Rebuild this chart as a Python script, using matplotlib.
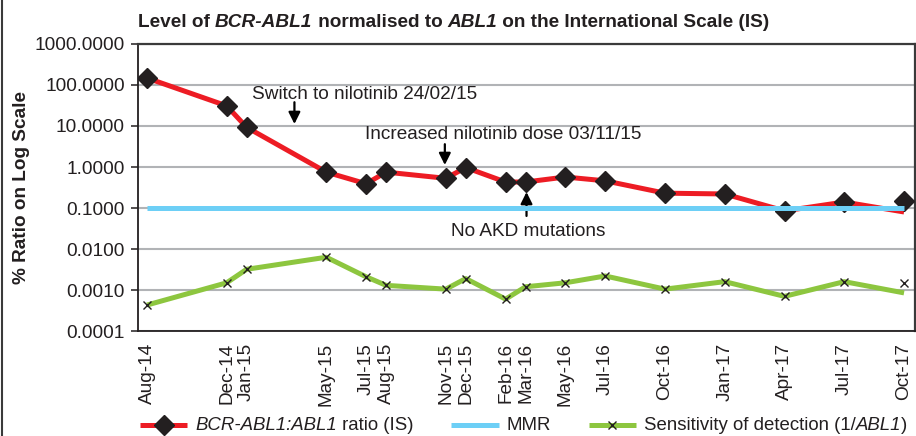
import datetime as dt
import matplotlib
matplotlib.use('Agg')
import matplotlib.pyplot as plt
from matplotlib.lines import Line2D
from matplotlib.ticker import FixedLocator, NullLocator
from matplotlib.offsetbox import AnchoredOffsetbox, DrawingArea, HPacker, TextArea

plt.rcParams['font.family'] = ['Liberation Sans', 'DejaVu Sans']

# sample dates (tick labels) and values
months = ['Aug-14', 'Dec-14', 'Jan-15', 'May-15', 'Jul-15', 'Aug-15', 'Nov-15', 'Dec-15',
          'Feb-16', 'Mar-16', 'May-16', 'Jul-16', 'Oct-16', 'Jan-17', 'Apr-17', 'Jul-17', 'Oct-17']
ratio_is = [148, 31, 9.3, 0.75, 0.39, 0.75, 0.53, 0.97, 0.43, 0.43, 0.57, 0.46,
            0.23, 0.22, 0.085, 0.14, 0.15]
ratio_line_end = 0.08        # red line ends lower than the last marker
sensitivity = [0.00043, 0.0015, 0.0032, 0.0063, 0.0021, 0.0013, 0.00105, 0.0019, 0.0006,
               0.0012, 0.0015, 0.0022, 0.00105, 0.0016, 0.0007, 0.0016, 0.0015]
sens_line_end = 0.00085
mmr = 0.1
y_ticks = [0.0001, 0.001, 0.01, 0.1, 1, 10, 100, 1000]

def month_index(label):
    d = dt.datetime.strptime(label, '%b-%y')
    return (d.year - 2014) * 12 + d.month - 8

x = [month_index(m) for m in months]

RED = '#ed1c24'
BLUE = '#6dcff6'
GREEN = '#8dc63f'
DARK = '#231f20'
GRID = '#b1b3b6'
FS = 13.7
LEG_FS = 13.4

fig = plt.figure(figsize=(9.16, 4.36), dpi=100)
ax = fig.add_axes([0.1507, 0.2408, 0.8482, 0.6583])

# BCR-ABL1 ratio
ax.plot(x, ratio_is[:-1] + [ratio_line_end], color=RED, lw=3.6, zorder=3, solid_capstyle='butt')
ax.plot(x, ratio_is, ls='none', marker='D', ms=10, color=DARK, zorder=4)
# MMR
ax.plot([x[0], x[-1]], [mmr, mmr], color=BLUE, lw=3.6, zorder=5, solid_capstyle='butt')
# sensitivity
ax.plot(x, sensitivity[:-1] + [sens_line_end], color=GREEN, lw=3.6, zorder=6, solid_capstyle='butt')
ax.plot(x, sensitivity, ls='none', marker='x', ms=6, mew=1.0, color=DARK, zorder=7)

ax.set_yscale('log')
ax.set_ylim(0.0001, 1000)
ax.set_xlim(-0.45, 38.55)
ax.yaxis.set_major_locator(FixedLocator(y_ticks))
ax.yaxis.set_minor_locator(NullLocator())
ax.set_yticklabels(['%.4f' % v for v in y_ticks])
ax.set_xticks(x)
ax.set_xticklabels(months, rotation=90)
ax.tick_params(axis='x', length=0, pad=8.5, labelsize=FS, labelcolor=DARK)
ax.tick_params(axis='y', length=5, width=1.1, pad=4.5, labelsize=FS, labelcolor=DARK, color=DARK)
ax.grid(axis='y', color=GRID, lw=1.5, zorder=0)
ax.set_axisbelow(True)
for side in ['left', 'bottom']:
    ax.spines[side].set_color(DARK)
    ax.spines[side].set_linewidth(1.3)
for side in ['top', 'right']:
    ax.spines[side].set_color('#3a3a3a')
    ax.spines[side].set_linewidth(1.6)

ax.set_ylabel('% Ratio on Log Scale', fontsize=FS, fontweight='bold', color=DARK)
ax.yaxis.set_label_coords(-0.139, 0.5)

# title with italic gene names
pieces = [('Level of ', 'normal'), ('BCR-ABL1', 'italic'), (' normalised to ', 'normal'),
          ('ABL1', 'italic'), (' on the International Scale (IS)', 'normal')]
prev = ax.annotate(pieces[0][0], xy=(0, 1), xycoords='axes fraction', xytext=(0, 9),
                   textcoords='offset points', va='bottom', ha='left', fontsize=FS,
                   fontweight='bold', fontstyle=pieces[0][1], color=DARK)
for txt, style in pieces[1:]:
    prev = ax.annotate(txt, xy=(1, 0), xycoords=prev, va='bottom', ha='left', fontsize=FS,
                       fontweight='bold', fontstyle=style, color=DARK)

# annotations
arrow = dict(arrowstyle='-|>,head_length=0.7,head_width=0.35', color='black', lw=1.6,
             shrinkA=0, shrinkB=0)
ax.annotate('', xy=(7.4, 11.2), xytext=(7.4, 38), arrowprops=arrow)
ax.text(5.27, 60, 'Switch to nilotinib 24/02/15', fontsize=FS, color=DARK, va='center', ha='left')
ax.annotate('', xy=(14.95, 1.12), xytext=(14.95, 3.6), arrowprops=arrow)
ax.text(10.95, 6.3, 'Increased nilotinib dose 03/11/15', fontsize=FS, color=DARK, va='center', ha='left')
ax.annotate('', xy=(19.05, 0.245), xytext=(19.05, 0.064), arrowprops=arrow)
ax.text(15.26, 0.026, 'No AKD mutations', fontsize=FS, color=DARK, va='center', ha='left')

# legend built by hand so gene names can be italic
def handle_box(color, marker=None, ms=0, mew=1.0):
    da = DrawingArea(34, 14, 0, 0)
    da.add_artist(Line2D([0, 34], [7, 7], color=color, lw=3.6, solid_capstyle='butt'))
    if marker:
        da.add_artist(Line2D([17], [7], ls='none', marker=marker, ms=ms, mew=mew,
                             mfc=DARK, mec=DARK))
    return da

def label_box(parts):
    areas = [TextArea(t, textprops=dict(fontsize=LEG_FS, fontstyle=s, color=DARK)) for t, s in parts]
    return HPacker(children=areas, align='baseline', pad=0, sep=0)

entries = [
    (handle_box(RED, 'D', 10), [('BCR-ABL1:ABL1', 'italic'), (' ratio (IS)', 'normal')]),
    (handle_box(BLUE), [('MMR', 'normal')]),
    (handle_box(GREEN, 'x', 6), [('Sensitivity of detection (1/', 'normal'), ('ABL1', 'italic'),
                                 (')', 'normal')]),
]
boxes = [HPacker(children=[h, label_box(p)], align='center', pad=0, sep=5.5) for h, p in entries]
legend_box = HPacker(children=boxes, align='center', pad=0, sep=27.5)
anchored = AnchoredOffsetbox(loc='center left', child=legend_box, pad=0, borderpad=0,
                             frameon=False, bbox_to_anchor=(0.153, 0.025),
                             bbox_transform=fig.transFigure)
fig.add_artist(anchored)

fig.add_artist(Line2D([0.0025, 0.0025], [0, 1], transform=fig.transFigure, color='#3a3a3a', lw=1.5))

fig.savefig('out.png', dpi=100)
